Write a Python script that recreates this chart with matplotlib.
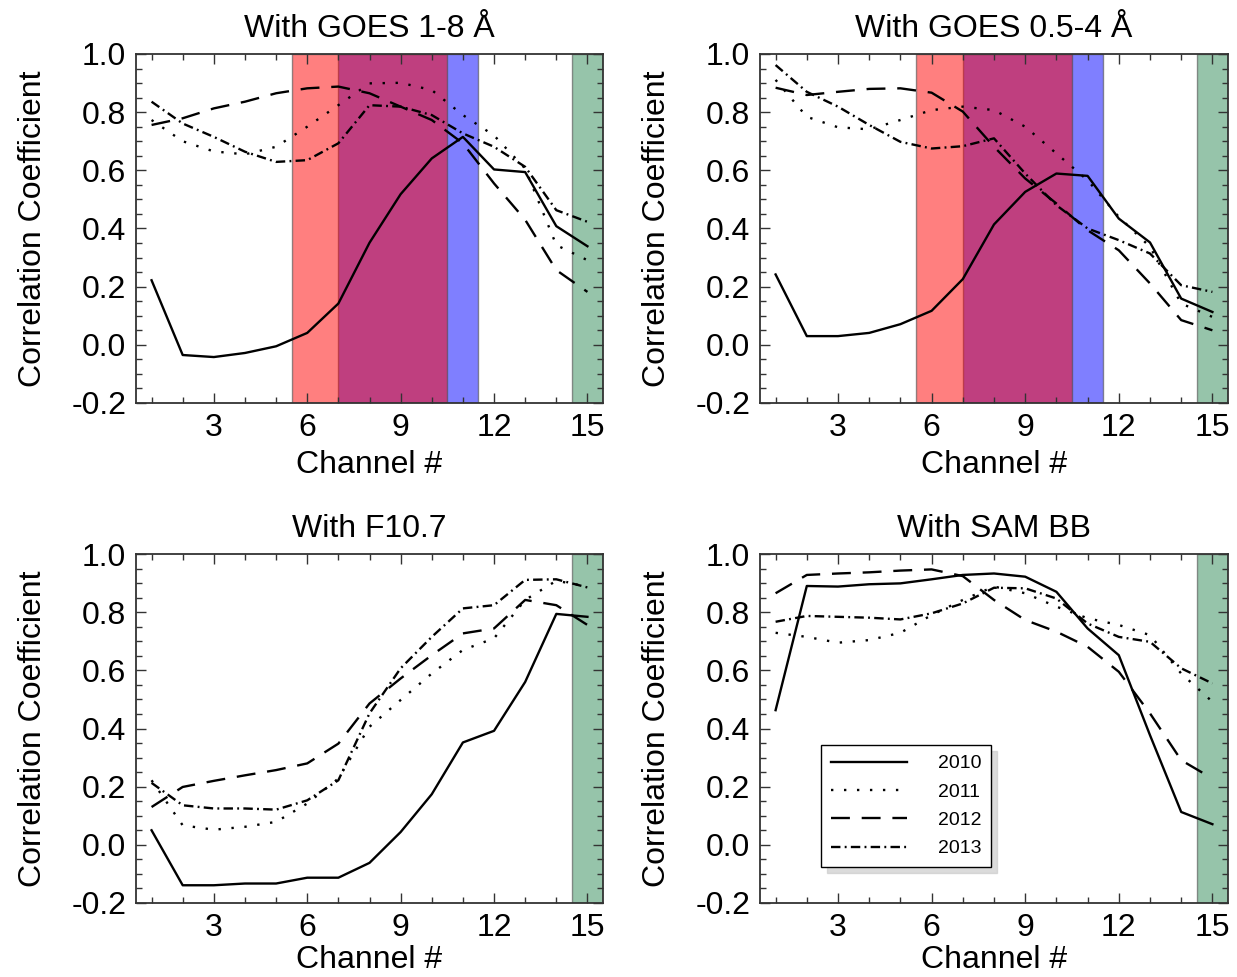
import matplotlib
matplotlib.use("Agg")
import matplotlib.pyplot as plt
from matplotlib.ticker import MultipleLocator
import numpy as np

plt.rcParams['font.family'] = ['Liberation Sans', 'DejaVu Sans']

channels = np.arange(1, 16)
years = ['2010', '2011', '2012', '2013']

titles = ['With GOES 1-8 Å', 'With GOES 0.5-4 Å', 'With F10.7', 'With SAM BB']

goes18_2010 = [0.222, -0.035, -0.042, -0.028, -0.005, 0.041, 0.142, 0.351, 0.518, 0.641, 0.715, 0.603, 0.594, 0.408, 0.339]
goes18_2011 = [0.773, 0.700, 0.665, 0.655, 0.681, 0.750, 0.824, 0.899, 0.901, 0.876, 0.790, 0.720, 0.606, 0.343, 0.291]
goes18_2012 = [0.756, 0.779, 0.813, 0.836, 0.865, 0.882, 0.888, 0.865, 0.819, 0.773, 0.693, 0.555, 0.430, 0.257, 0.182]
goes18_2013 = [0.836, 0.761, 0.715, 0.664, 0.629, 0.635, 0.693, 0.824, 0.819, 0.790, 0.727, 0.681, 0.612, 0.463, 0.423]

goes054_2010 = [0.242, 0.030, 0.030, 0.041, 0.071, 0.117, 0.226, 0.414, 0.526, 0.589, 0.581, 0.434, 0.352, 0.159, 0.113]
goes054_2011 = [0.911, 0.784, 0.748, 0.741, 0.773, 0.807, 0.819, 0.807, 0.750, 0.658, 0.566, 0.440, 0.337, 0.142, 0.096]
goes054_2012 = [0.884, 0.859, 0.870, 0.880, 0.882, 0.867, 0.802, 0.681, 0.572, 0.486, 0.394, 0.325, 0.211, 0.085, 0.050]
goes054_2013 = [0.962, 0.870, 0.819, 0.756, 0.698, 0.675, 0.683, 0.710, 0.589, 0.480, 0.400, 0.360, 0.314, 0.205, 0.182]

f107_2010 = [0.050, -0.139, -0.139, -0.133, -0.133, -0.113, -0.113, -0.062, 0.044, 0.174, 0.352, 0.392, 0.560, 0.794, 0.784]
f107_2011 = [0.222, 0.067, 0.052, 0.062, 0.079, 0.142, 0.228, 0.406, 0.498, 0.589, 0.670, 0.710, 0.842, 0.908, 0.888]
f107_2012 = [0.130, 0.199, 0.220, 0.239, 0.257, 0.280, 0.348, 0.486, 0.572, 0.652, 0.727, 0.744, 0.842, 0.824, 0.756]
f107_2013 = [0.213, 0.136, 0.125, 0.125, 0.121, 0.153, 0.222, 0.452, 0.607, 0.715, 0.813, 0.824, 0.911, 0.913, 0.885]

sam_2010 = [0.463, 0.890, 0.888, 0.896, 0.899, 0.913, 0.928, 0.933, 0.922, 0.870, 0.744, 0.652, 0.377, 0.113, 0.071]
sam_2011 = [0.729, 0.715, 0.695, 0.704, 0.729, 0.790, 0.842, 0.888, 0.865, 0.819, 0.779, 0.756, 0.721, 0.589, 0.492]
sam_2012 = [0.865, 0.928, 0.933, 0.937, 0.943, 0.947, 0.924, 0.842, 0.773, 0.733, 0.681, 0.595, 0.452, 0.291, 0.228]
sam_2013 = [0.767, 0.787, 0.784, 0.781, 0.775, 0.796, 0.830, 0.884, 0.882, 0.847, 0.761, 0.715, 0.698, 0.607, 0.555]

panels = [
    [goes18_2010, goes18_2011, goes18_2012, goes18_2013],
    [goes054_2010, goes054_2011, goes054_2012, goes054_2013],
    [f107_2010, f107_2011, f107_2012, f107_2013],
    [sam_2010, sam_2011, sam_2012, sam_2013],
]

# shaded channel bands: (start, end)
blue_band = (7.0, 11.5)
red_band = (5.5, 10.5)
green_band = (14.5, 15.5)

styles = ['-', (0, (1, 4.5)), (0, (8, 5)), (0, (4, 1.8, 0.8, 1.8))]

W, H = 1237, 977
fig = plt.figure(figsize=(W / 100, H / 100), dpi=100)

boxes = [
    (136, 54, 603, 403),
    (760, 54, 1228, 403),
    (136, 554, 603, 903),
    (760, 554, 1228, 903),
]

FS = 23
for i, (l, t, r, b) in enumerate(boxes):
    ax = fig.add_axes([l / W, 1 - b / H, (r - l) / W, (b - t) / H])
    if i < 2:
        ax.axvspan(*blue_band, facecolor=(0, 0, 1, 0.5), edgecolor=(0.3, 0.3, 0.3, 0.6), lw=1, zorder=1)
        ax.axvspan(*red_band, facecolor=(1, 0, 0, 0.5), edgecolor=(0.3, 0.3, 0.3, 0.6), lw=1, zorder=1)
    ax.axvspan(*green_band, facecolor=(46 / 255, 139 / 255, 87 / 255, 0.5), edgecolor=(0.3, 0.3, 0.3, 0.6), lw=1, zorder=1)
    for data, ls, yr in zip(panels[i], styles, years):
        ax.plot(channels, data, color='black', lw=1.7, linestyle=ls, label=yr, zorder=3)
    ax.set_xlim(0.5, 15.5)
    ax.set_ylim(-0.2, 1.0)
    ax.xaxis.set_major_locator(MultipleLocator(3))
    ax.xaxis.set_minor_locator(MultipleLocator(1))
    ax.yaxis.set_major_locator(MultipleLocator(0.2))
    ax.yaxis.set_minor_locator(MultipleLocator(0.05))
    ax.set_xticks([3, 6, 9, 12, 15])
    ax.set_yticks([-0.2, 0.0, 0.2, 0.4, 0.6, 0.8, 1.0])
    ax.set_yticklabels(['-0.2', '0.0', '0.2', '0.4', '0.6', '0.8', '1.0'])
    ax.tick_params(which='both', direction='in', top=True, right=True, width=1, color='0.2')
    ax.tick_params(which='major', length=7, labelsize=FS, pad=7)
    ax.tick_params(which='minor', length=4)
    for s in ax.spines.values():
        s.set_linewidth(1.3)
        s.set_color('0.2')
    ax.set_xlabel('Channel #', fontsize=FS, labelpad=5 if i < 2 else 2)
    ax.set_ylabel('Correlation Coefficient', fontsize=FS, labelpad=17)
    ax.set_title(titles[i], fontsize=FS, pad=12)
    if i == 3:
        leg = ax.legend(loc='lower left', bbox_to_anchor=(0.11, 0.075), fontsize=14,
                        handlelength=3.9, handletextpad=1.6, labelspacing=0.55,
                        borderpad=0.5, fancybox=False, framealpha=1, edgecolor='black',
                        markerfirst=True,
                        shadow={'ox': 4, 'oy': -4, 'facecolor': '0.8', 'edgecolor': '0.8', 'alpha': 0.7})
        leg.get_frame().set_linewidth(1.0)

fig.savefig('out.png', dpi=100)
